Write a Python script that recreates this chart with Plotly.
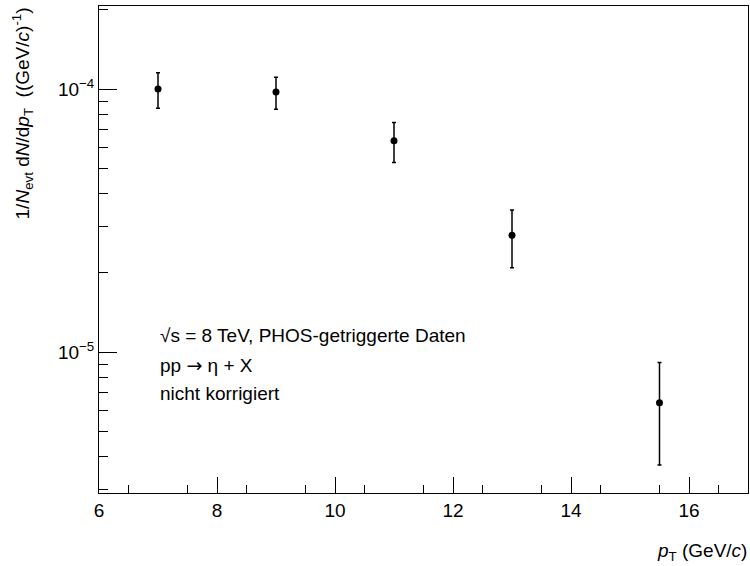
import plotly.graph_objects as go
import numpy as np

pt = [7.0, 9.0, 11.0, 13.0, 15.5]
yield_vals = [1.00e-4, 0.974e-4, 0.636e-4, 2.78e-5, 6.42e-6]
yield_err = [0.155e-4, 0.135e-4, 0.11e-4, 0.69e-5, 2.7e-6]

x_ticks = [6, 8, 10, 12, 14, 16]
y_major = [1e-5, 1e-4]
y_major_text = ["10<sup>\u22125</sup>", "10<sup>\u22124</sup>"]
y_minor = [3e-6, 4e-6, 5e-6, 6e-6, 7e-6, 8e-6, 9e-6,
           2e-5, 3e-5, 4e-5, 5e-5, 6e-5, 7e-5, 8e-5, 9e-5, 2e-4]

FONT = "Liberation Sans, Arial, Helvetica, sans-serif"
FS = 19
xr = [6, 17]
yr = [-5.536, -3.684]

fig = go.Figure()
fig.add_trace(go.Scatter(
    x=pt, y=yield_vals, mode="markers",
    marker=dict(symbol="circle", size=7, color="black"),
    error_y=dict(type="data", array=yield_err, visible=True,
                 color="black", thickness=1.5, width=2),
    showlegend=False, hoverinfo="skip"))
# invisible trace to activate the minor-tick overlay axes
fig.add_trace(go.Scatter(x=pt, y=yield_vals, xaxis="x2", yaxis="y2",
                         mode="markers", marker=dict(opacity=0),
                         showlegend=False, hoverinfo="skip"))

fig.update_layout(
    width=750, height=566,
    margin=dict(l=99, r=2, t=6, b=73),
    paper_bgcolor="white", plot_bgcolor="white",
    font=dict(family=FONT, size=FS, color="black"),
    xaxis=dict(range=xr, tickvals=x_ticks, ticks="inside", ticklen=16,
               tickwidth=1, tickcolor="black", showline=True,
               linecolor="black", linewidth=1, mirror=True,
               showgrid=False, zeroline=False,
               tickfont=dict(family=FONT, size=FS)),
    yaxis=dict(type="log", range=yr, tickvals=y_major, ticktext=y_major_text,
               ticks="inside", ticklen=18, tickwidth=1, tickcolor="black",
               showline=True, linecolor="black", linewidth=1, mirror=True,
               showgrid=False, zeroline=False,
               tickfont=dict(family=FONT, size=FS)),
    xaxis2=dict(range=xr, overlaying="x", anchor="y2",
                tickvals=list(np.arange(6.5, 17.0, 1.0)),
                ticks="inside", ticklen=8, tickwidth=1, tickcolor="black",
                showticklabels=False, showline=False, showgrid=False,
                zeroline=False),
    yaxis2=dict(type="log", range=yr, overlaying="y", anchor="x2",
                tickvals=y_minor, ticks="inside", ticklen=9, tickwidth=1,
                tickcolor="black", showticklabels=False, showline=False,
                showgrid=False, zeroline=False),
)

fig.add_annotation(
    text="1/<i>N</i><sub>evt</sub> d<i>N</i>/d<i>p</i><sub>T</sub>  ((GeV/<i>c</i>)<sup>-1</sup>)",
    xref="paper", yref="paper", x=-0.118, y=1.002,
    xanchor="center", yanchor="top", textangle=-90, showarrow=False,
    font=dict(family=FONT, size=FS))
fig.add_annotation(
    text="<i>p</i><sub>T</sub> (GeV/<i>c</i>)",
    xref="paper", yref="paper", x=1.0015, y=-0.121,
    xanchor="right", yanchor="middle", showarrow=False,
    font=dict(family=FONT, size=FS))

labels = ["\u221as = 8 TeV, PHOS-getriggerte Daten",
          "pp <span style=\"font-family:'DejaVu Sans'\">\u2192</span> \u03b7 + X",
          "nicht korrigiert"]
label_y = [0.3244, 0.2628, 0.2053]
for t, yy in zip(labels, label_y):
    fig.add_annotation(text=t, xref="paper", yref="paper", x=0.0909, y=yy,
                       xanchor="left", yanchor="middle", showarrow=False,
                       font=dict(family=FONT, size=FS))

fig.write_html("out.html")
